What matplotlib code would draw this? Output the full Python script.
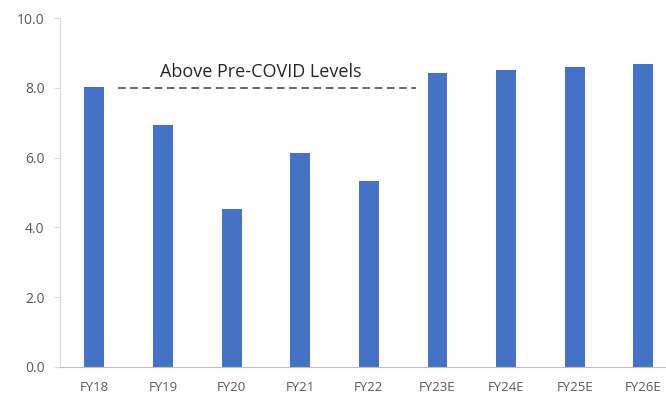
import matplotlib.pyplot as plt

years = ['FY18', 'FY19', 'FY20', 'FY21', 'FY22', 'FY23E', 'FY24E', 'FY25E', 'FY26E']
values = [8.02, 6.93, 4.53, 6.13, 5.33, 8.42, 8.51, 8.60, 8.68]
pre_covid = 8.0

plt.rcParams['font.family'] = ['Open Sans', 'DejaVu Sans']

fig = plt.figure(figsize=(6.66, 3.98), dpi=100)
ax = fig.add_axes([60 / 666, 31 / 398, 606 / 666, 349 / 398])

x = range(len(years))
ax.bar(x, values, width=0.29, color='#4472C4')

# dashed reference line with its label
ax.plot([0.35, 4.68], [pre_covid, pre_covid], linestyle=(0, (5, 3)), color='#404040', linewidth=1.1)
ax.text(2.42, 8.2, 'Above Pre-COVID Levels', ha='center', va='bottom', fontsize=13, color='#262626')

ax.set_xlim(-0.5, 8.33)
ax.set_ylim(0, 10)
ax.set_yticks([0, 2, 4, 6, 8, 10])
ax.set_yticklabels([f'{v:.1f}' for v in [0, 2, 4, 6, 8, 10]])
ax.set_xticks(list(x))
ax.set_xticklabels(years)

for side in ['top', 'right']:
    ax.spines[side].set_visible(False)
ax.spines['left'].set_color('#d9d9d9')
ax.spines['bottom'].set_color('#bfbfbf')
ax.tick_params(axis='y', colors='#d9d9d9', labelcolor='#595959', labelsize=10, length=4, pad=7)
ax.tick_params(axis='x', length=0, labelcolor='#595959', labelsize=9.5, pad=10)

fig.savefig('out.png', dpi=100)
